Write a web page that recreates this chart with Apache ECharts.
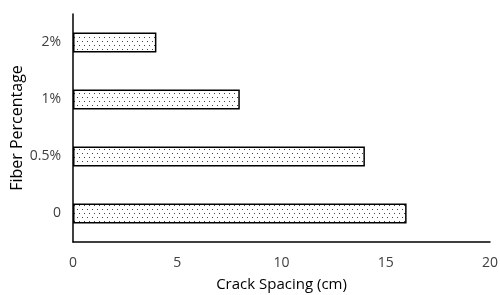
<!DOCTYPE html>
<html>
<head>
<meta charset="utf-8">
<script src="https://cdn.jsdelivr.net/npm/echarts@6/dist/echarts.min.js"></script>
<style>
html,body{margin:0;padding:0;background:#fff;}
#chart{width:500px;height:295px;}
</style>
</head>
<body>
<div id="chart"></div>
<script>
// 数据
var categories = ['0', '0.5%', '1%', '2%'];
var spacing = [16, 14, 8, 4];
var xTicks = [0, 5, 10, 15, 20];

// 点状填充图案
function dotPattern() {
	var c = document.createElement('canvas');
	c.width = 10;
	c.height = 8;
	var ctx = c.getContext('2d');
	ctx.fillStyle = '#fff';
	ctx.fillRect(0, 0, 10, 8);
	ctx.fillStyle = '#444';
	ctx.fillRect(2, 1, 1, 1);
	ctx.fillRect(7, 1, 1, 1);
	ctx.fillRect(4, 5, 1, 1);
	ctx.fillRect(9, 5, 1, 1);
	return c;
}

var myChart = echarts.init(document.getElementById('chart'));
var font = 'Open Sans, Liberation Sans, sans-serif';
var option = {
	animation: false,
	grid: {left: 73, right: 10, top: 14, bottom: 53, outerBoundsMode: 'none', containLabel: false},
	xAxis: {
		type: 'value',
		min: xTicks[0],
		max: xTicks[xTicks.length - 1],
		interval: 5,
		name: 'Crack Spacing (cm)',
		nameLocation: 'middle',
		nameGap: 35,
		nameMoveOverlap: false,
		nameTextStyle: {color: '#000', fontSize: 15, fontFamily: font},
		axisLine: {show: true, lineStyle: {color: '#000', width: 1.5}},
		axisTick: {show: false},
		splitLine: {show: false},
		axisLabel: {color: '#404040', fontSize: 14, fontFamily: font, margin: 14}
	},
	yAxis: {
		type: 'category',
		data: categories,
		name: 'Fiber Percentage',
		nameLocation: 'middle',
		nameGap: 48,
		nameRotate: 90,
		nameMoveOverlap: false,
		nameTextStyle: {color: '#000', fontSize: 16, fontFamily: font},
		axisLine: {show: true, lineStyle: {color: '#000', width: 1.5}},
		axisTick: {show: false},
		axisLabel: {color: '#404040', fontSize: 14, fontFamily: font, margin: 12}
	},
	series: [{
		type: 'bar',
		data: spacing,
		barWidth: 20,
		itemStyle: {
			color: {image: dotPattern(), repeat: 'repeat'},
			borderColor: '#000',
			borderWidth: 1.5
		}
	}]
};
myChart.setOption(option);
</script>
</body>
</html>
